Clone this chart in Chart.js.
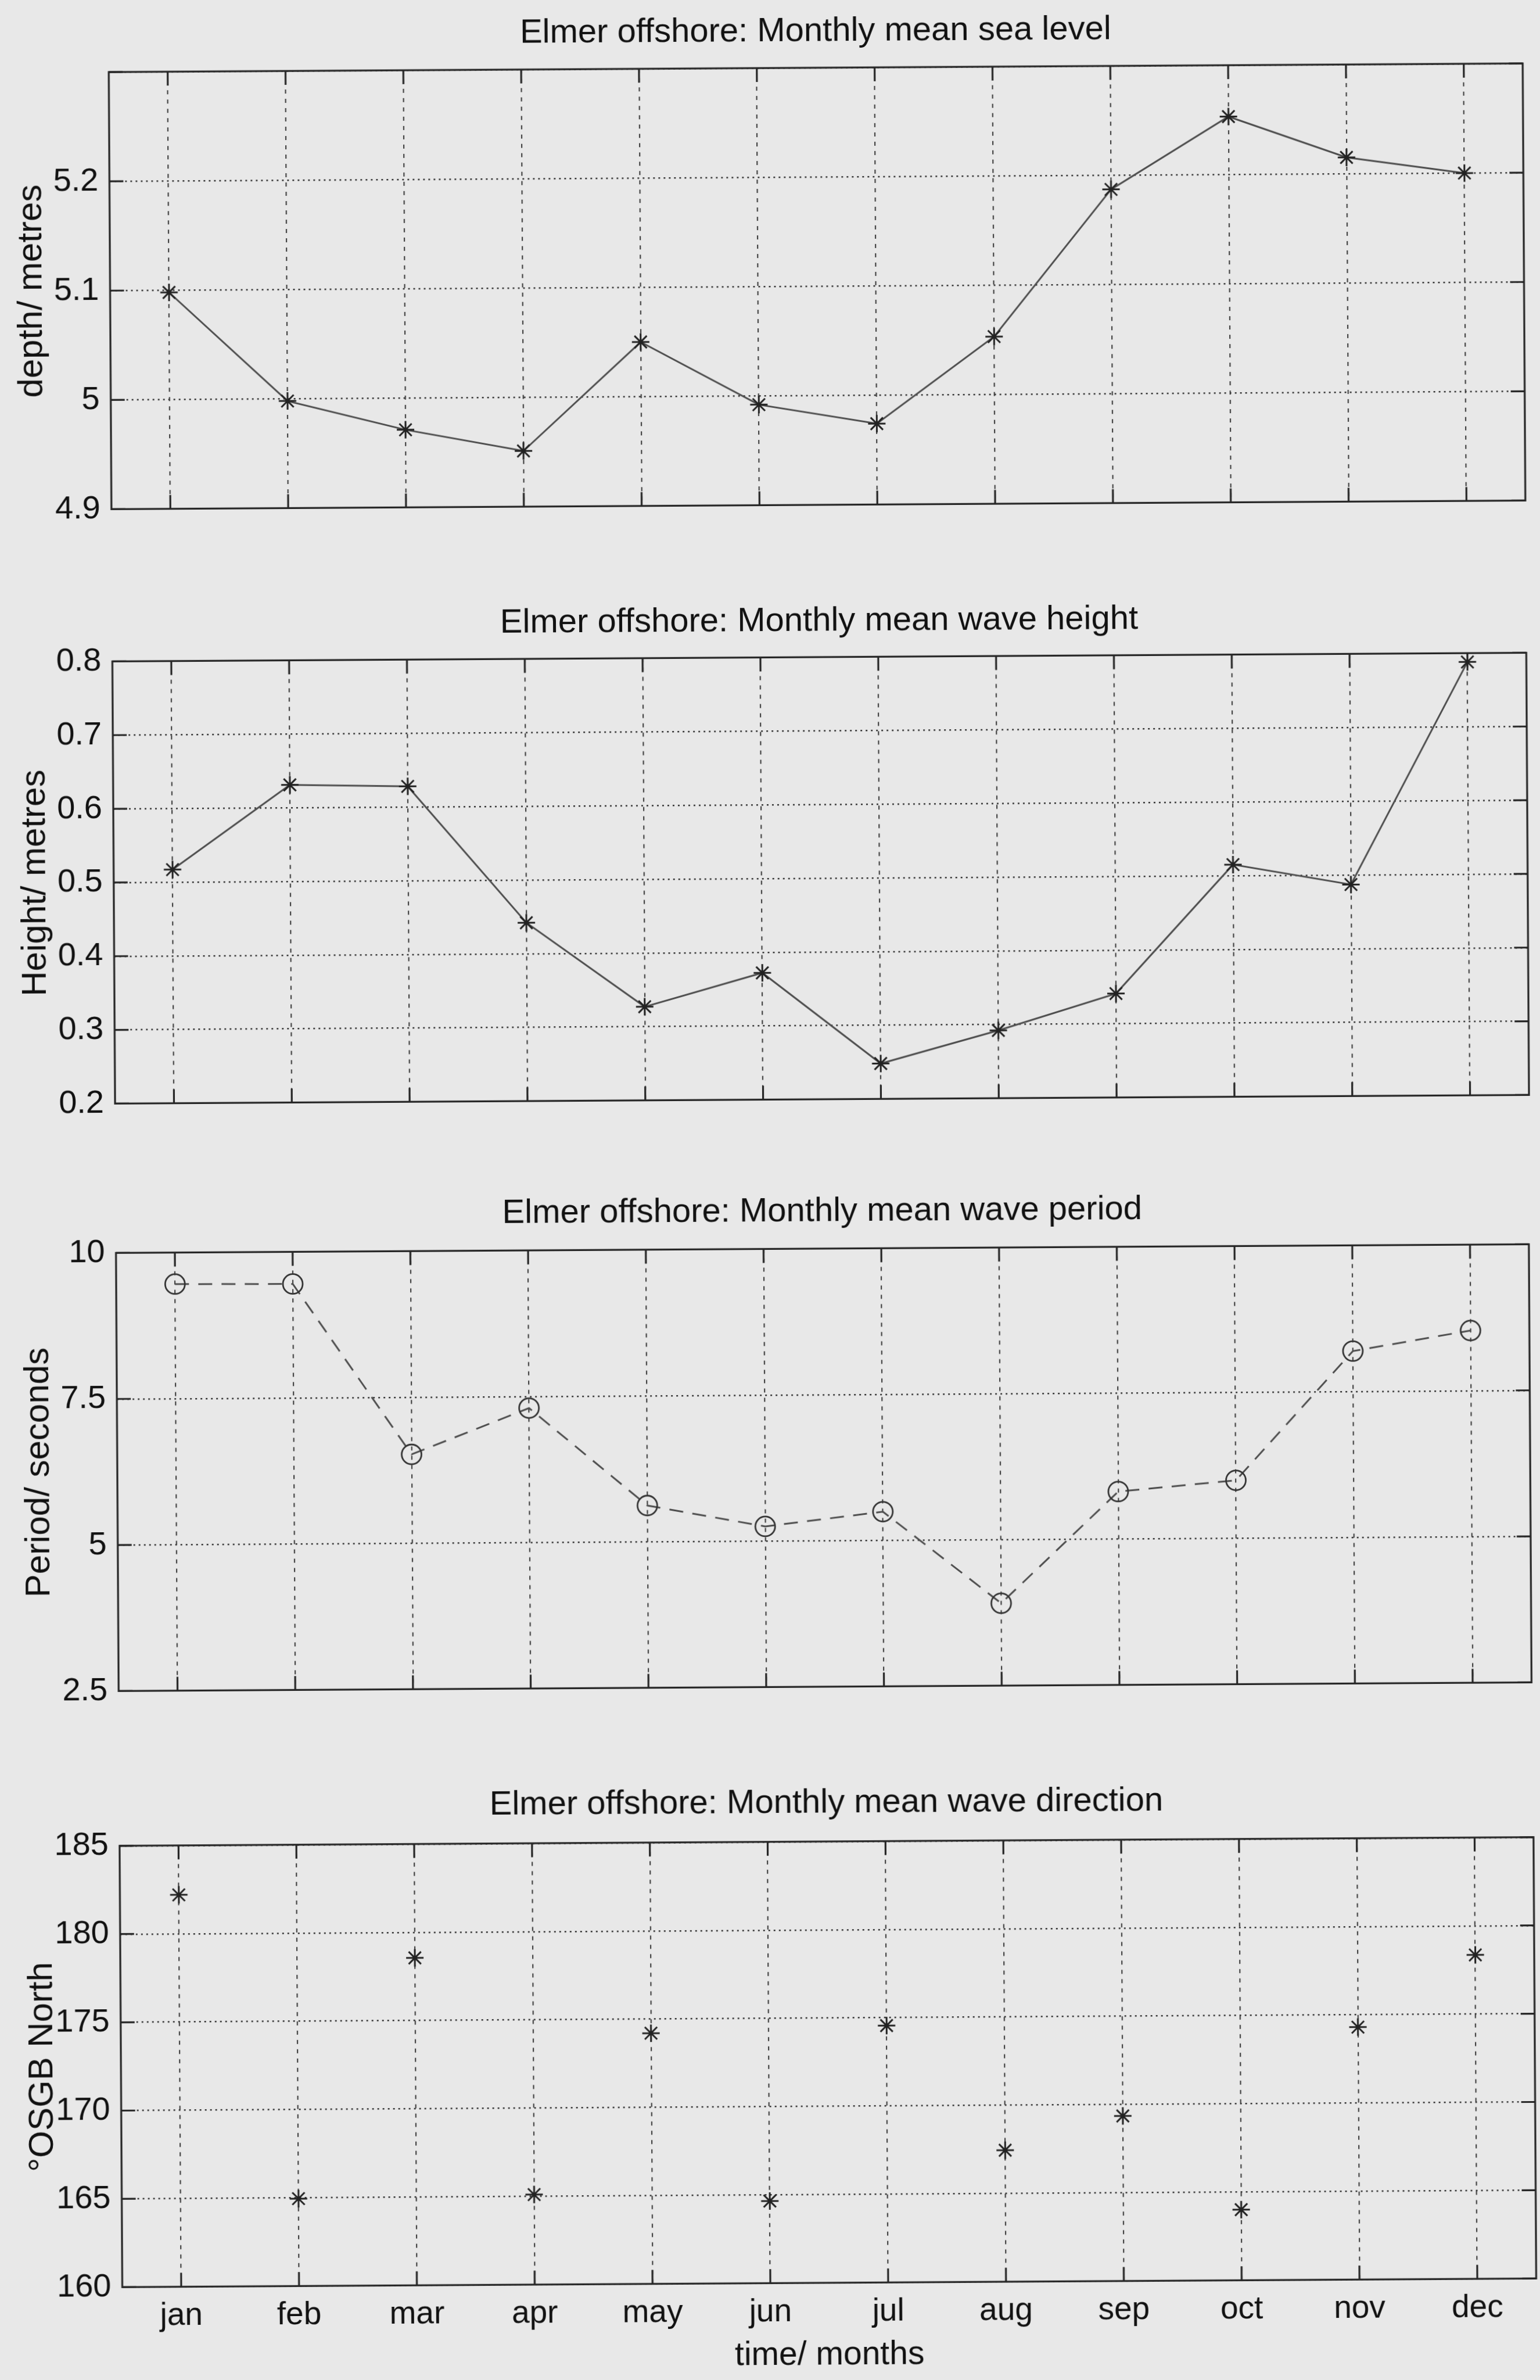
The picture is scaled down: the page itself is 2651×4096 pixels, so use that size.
<!DOCTYPE html>
<html>
<head>
<meta charset="utf-8">
<script src="https://cdn.jsdelivr.net/npm/chart.js@4.4.1/dist/chart.umd.min.js"></script>
<style>
  html, body { margin: 0; padding: 0; background: #e8e8e8; width: 2651px; height: 4096px; overflow: hidden; }
  #page { position: absolute; left: 0; top: 0; width: 2651px; height: 4096px; transform: rotate(-0.35deg); transform-origin: 50% 50%; }
  #page canvas { position: absolute; left: 0; }
</style>
</head>
<body>
<div id="page"></div>
<script>
// ---------------- data ----------------
const months = ['jan', 'feb', 'mar', 'apr', 'may', 'jun', 'jul', 'aug', 'sep', 'oct', 'nov', 'dec'];

const seaLevel      = [5.098, 4.998, 4.971, 4.951, 5.050, 4.992, 4.974, 5.053, 5.187, 5.253, 5.215, 5.200];
const waveHeight    = [0.517, 0.631, 0.628, 0.442, 0.327, 0.372, 0.248, 0.292, 0.341, 0.515, 0.487, 0.788];
const wavePeriod    = [9.46, 9.45, 6.52, 7.30, 5.62, 5.25, 5.49, 3.91, 5.81, 5.99, 8.19, 8.53];
const waveDirection = [182.2, 164.95, 178.55, 165.1, 174.2, 164.65, 174.55, 167.45, 169.35, 164.0, 174.3, 178.35];

const seaLevelTicks      = [4.9, 5, 5.1, 5.2];
const waveHeightTicks    = [0.2, 0.3, 0.4, 0.5, 0.6, 0.7, 0.8];
const wavePeriodTicks    = [2.5, 5, 7.5, 10];
const waveDirectionTicks = [160, 165, 170, 175, 180, 185];

const chartTitles = [
  'Elmer offshore: Monthly mean sea level',
  'Elmer offshore: Monthly mean wave height',
  'Elmer offshore: Monthly mean wave period',
  'Elmer offshore: Monthly mean wave direction'
];
const yTitles = ['depth/ metres', 'Height/ metres', 'Period/ seconds', '\u00B0OSGB North'];
const xTitle = 'time/ months';

// ---------------- style ----------------
const FONT = "'Liberation Sans', Arial, Helvetica, sans-serif";
const TEXT = '#111111';
const FRAME = '#262626';
const GRID_X = '#444444';
const GRID_Y = '#363636';
const LINE = '#4e4e4e';
const MARK = '#222222';
const TICK_LEN = 24;
const TITLE_SIZE = 58, TICK_SIZE = 56, YTITLE_SIZE = 60, XTICK_SIZE = 55, XTITLE_SIZE = 57;
const PAGE_H = 4096;

// panel layout (page pixels)
const panels = [
  { titleY: 54.8,   top: 117.1,  bottom: 881.5 },
  { titleY: 1070.3, top: 1131.4, bottom: 1905.1 },
  { titleY: 2085.8, top: 2149.4, bottom: 2915.6 },
  { titleY: 3104.4, top: 3169.8, bottom: 3929.3 }
];

const framePlugin = {
  id: 'matlabFrame',
  beforeDatasetsDraw(chart) {
    const { ctx, chartArea: a, scales } = chart;
    const x = scales.x, y = scales.y;
    ctx.save();
    ctx.setLineDash([]);
    ctx.strokeStyle = FRAME;
    ctx.lineWidth = 3.2;
    ctx.beginPath();
    x.ticks.forEach((t, i) => {
      const px = x.getPixelForTick(i);
      ctx.moveTo(px, a.bottom); ctx.lineTo(px, a.bottom - TICK_LEN);
      ctx.moveTo(px, a.top); ctx.lineTo(px, a.top + TICK_LEN);
    });
    y.ticks.forEach((t) => {
      const py = y.getPixelForValue(t.value);
      ctx.moveTo(a.left, py); ctx.lineTo(a.left + TICK_LEN, py);
      ctx.moveTo(a.right, py); ctx.lineTo(a.right - TICK_LEN, py);
    });
    ctx.stroke();
    ctx.strokeRect(a.left, a.top, a.right - a.left, a.bottom - a.top);
    ctx.restore();
  }
};

function labelFrom(list) {
  return (v) => {
    const hit = list.find(t => Math.abs(t - v) < 1e-6);
    return hit === undefined ? '' : String(hit);
  };
}

function makePanel(idx, dataset, yMin, yMax, yStep, tickList) {
  const p = panels[idx];
  const last = idx === panels.length - 1;
  const titleLH = TITLE_SIZE * 1.2;
  const canvasTop = Math.round(p.titleY - 40 - titleLH / 2);
  const canvasBottom = last ? PAGE_H : Math.round(p.bottom + 40);
  const H = canvasBottom - canvasTop;
  const padTop = p.titleY - canvasTop - titleLH / 2;
  const padBottom = p.top - p.titleY - titleLH / 2;
  const xAxisH = canvasBottom - p.bottom;

  const canvas = document.createElement('canvas');
  canvas.width = 2651;
  canvas.height = H;
  canvas.style.top = canvasTop + 'px';
  canvas.style.width = '2651px';
  canvas.style.height = H + 'px';
  document.getElementById('page').appendChild(canvas);

  new Chart(canvas.getContext('2d'), {
    type: 'line',
    data: { labels: months, datasets: [dataset] },
    options: {
      responsive: false,
      animation: false,
      devicePixelRatio: 1,
      layout: { padding: { left: 0, right: 16, top: 0, bottom: 0 } },
      plugins: {
        legend: { display: false },
        tooltip: { enabled: false },
        title: {
          display: true,
          text: chartTitles[idx],
          fullSize: false,
          color: TEXT,
          font: { family: FONT, size: TITLE_SIZE, weight: 'normal' },
          padding: { top: padTop, bottom: padBottom }
        }
      },
      scales: {
        x: {
          type: 'category',
          offset: true,
          grid: { offset: false, color: GRID_X, lineWidth: 2.2, drawTicks: false },
          border: { display: false, dash: [7, 9] },
          ticks: {
            display: last,
            color: TEXT,
            font: { family: FONT, size: XTICK_SIZE },
            padding: 17.4,
            autoSkip: false,
            maxRotation: 0,
            minRotation: 0
          },
          title: {
            display: last,
            text: xTitle,
            color: TEXT,
            font: { family: FONT, size: XTITLE_SIZE },
            padding: { top: 0, bottom: 7.9 }
          },
          afterFit: (s) => { s.height = xAxisH; }
        },
        y: {
          type: 'linear',
          min: yMin,
          max: yMax,
          grid: { color: GRID_Y, lineWidth: 2.4, drawTicks: false },
          border: { display: false, dash: [3, 6] },
          ticks: {
            stepSize: yStep,
            callback: labelFrom(tickList),
            color: TEXT,
            font: { family: FONT, size: TICK_SIZE },
            padding: 19,
            autoSkip: false
          },
          title: {
            display: true,
            text: yTitles[idx],
            color: TEXT,
            font: { family: FONT, size: YTITLE_SIZE },
            padding: { top: 28.8, bottom: 0 }
          },
          afterFit: (s) => { s.width = 199; }
        }
      }
    },
    plugins: [framePlugin]
  });
}

const starPoints = {
  pointStyle: 'star',
  pointRadius: 15,
  pointBorderWidth: 3,
  pointBorderColor: MARK,
  pointBackgroundColor: 'rgba(0,0,0,0)'
};

makePanel(0, Object.assign({
  data: seaLevel, borderColor: LINE, borderWidth: 3, tension: 0, fill: false, clip: false
}, starPoints), 4.9, 5.3, 0.1, seaLevelTicks);

makePanel(1, Object.assign({
  data: waveHeight, borderColor: LINE, borderWidth: 3, tension: 0, fill: false, clip: false
}, starPoints), 0.2, 0.8, 0.1, waveHeightTicks);

makePanel(2, {
  data: wavePeriod, borderColor: LINE, borderWidth: 3, borderDash: [24, 16], tension: 0, fill: false, clip: false,
  pointStyle: 'circle', pointRadius: 17, pointBorderWidth: 2.8, pointBorderColor: '#333333',
  pointBackgroundColor: 'rgba(0,0,0,0)'
}, 2.5, 10, 2.5, wavePeriodTicks);

makePanel(3, Object.assign({
  data: waveDirection, showLine: false, borderColor: LINE, fill: false, clip: false
}, starPoints), 160, 185, 5, waveDirectionTicks);
</script>
</body>
</html>
